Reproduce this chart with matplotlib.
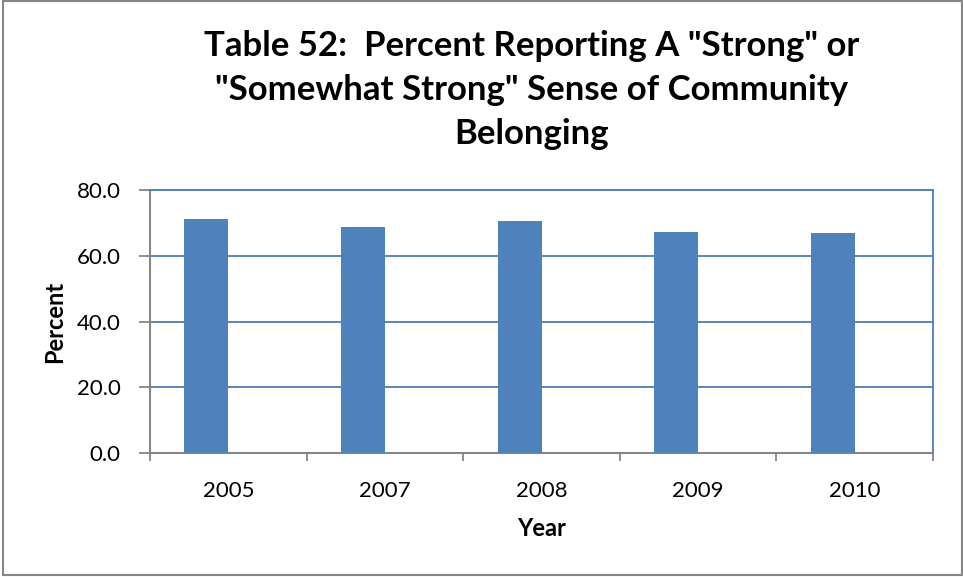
import matplotlib
matplotlib.use("Agg")
import matplotlib.pyplot as plt
from matplotlib.patches import Rectangle
import numpy as np

years = ["2005", "2007", "2008", "2009", "2010"]
percent = [71.1, 68.6, 70.7, 67.1, 67.0]
yticks = [0, 20, 40, 60, 80]

plt.rcParams['font.family'] = ['Lato', 'DejaVu Sans']

W, H = 963, 577
fig = plt.figure(figsize=(W / 100, H / 100), dpi=100)
ax = fig.add_axes([150 / W, 1 - 453 / H, (933 - 150) / W, (453 - 190) / H])

blue = "#4F81BD"
grid_blue = "#4A7EBB"
grey = "#868686"

x = np.arange(len(years))
bar_w = 0.28
ax.bar(x - bar_w / 2, percent, width=bar_w, color=blue, zorder=3)
ax.set_xlim(-0.5, len(years) - 0.5)
ax.set_ylim(0, 80)
ax.set_yticks(yticks)
ax.set_yticklabels([f"{v:.1f}" for v in yticks], fontsize=16)
ax.yaxis.grid(True, color=grid_blue, linewidth=1.3, zorder=1)
ax.set_xticks(x)
ax.set_xticklabels(years, fontsize=16)
ax.set_xticks(np.arange(-0.5, len(years)), minor=True)
ax.tick_params(axis='x', which='major', length=0, pad=20)
ax.tick_params(axis='x', which='minor', length=6, color=grey, width=1.3, direction='out')
ax.tick_params(axis='y', length=8, color=grey, width=1.3, pad=13)

for s in ['left', 'bottom']:
    ax.spines[s].set_color(grey)
    ax.spines[s].set_linewidth(1.5)
for s in ['top', 'right']:
    ax.spines[s].set_color(grid_blue)
    ax.spines[s].set_linewidth(1.3)

ax.set_xlabel("Year", fontsize=17, fontweight='bold', labelpad=12)
ax.set_ylabel("Percent", fontsize=17, fontweight='bold', labelpad=8)

fig.text(532 / W, 1 - 90 / H,
         'Table 52:  Percent Reporting A "Strong" or\n"Somewhat Strong" Sense of Community\nBelonging',
         ha='center', va='center', fontsize=25, fontweight='bold', linespacing=1.45)

fig.patches.append(Rectangle((3 / W, 2 / H), (W - 4.5) / W, (H - 3) / H, transform=fig.transFigure,
                             fill=False, edgecolor=grey, linewidth=1.5))

fig.savefig("out.png", dpi=100)
